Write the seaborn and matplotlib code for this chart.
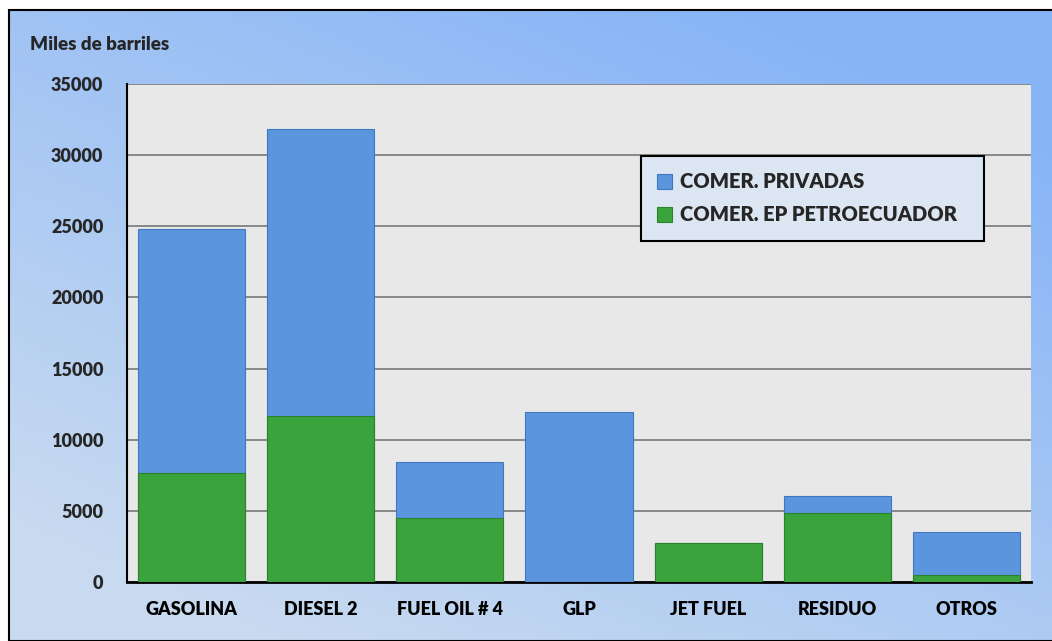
import matplotlib.pyplot as plt
import matplotlib.patches as mpatches
import numpy as np
import pandas as pd
import seaborn as sns

# Datos (miles de barriles)
productos = ["GASOLINA", "DIESEL 2", "FUEL OIL # 4", "GLP", "JET FUEL", "RESIDUO", "OTROS"]
petroecuador = [7650, 11700, 4480, 0, 2720, 4830, 500]
privadas = [17150, 20150, 3970, 11980, 0, 1220, 3040]
y_ticks = [0, 5000, 10000, 15000, 20000, 25000, 30000, 35000]

AZUL = "#5b95dd"
VERDE = "#3aa33b"
PESO = "heavy"

sns.set_theme(style="white")
plt.rcParams["font.family"] = ["Lato", "DejaVu Sans"]

df = pd.DataFrame({"producto": productos, "petro": petroecuador, "priv": privadas})
df["total"] = df["petro"] + df["priv"]

fig = plt.figure(figsize=(10.52, 6.41), dpi=100)

# Fondo con degradado azul
bg = fig.add_axes([9 / 1052, 0, 1 - 9 / 1052, 631 / 641], zorder=-5)
gx, gy = np.meshgrid(np.linspace(0, 1, 200), np.linspace(0, 1, 200))
c1 = np.array([0x86, 0xb4, 0xf7]) / 255
c0 = np.array([0xc8, 0xda, 0xf0]) / 255
mix = np.clip(0.55 * gx + 0.75 * (1 - gy) - 0.15, 0, 1)
img = c0[None, None, :] * (1 - mix[..., None]) + c1[None, None, :] * mix[..., None]
bg.imshow(img, aspect="auto", extent=[0, 1, 0, 1])
bg.set_axis_off()
fig.add_artist(mpatches.Rectangle((9 / 1052, 0), 1.0, 631 / 641, transform=fig.transFigure,
                                  fill=False, edgecolor="black", linewidth=1.5, zorder=-4))

ax = fig.add_axes([127 / 1052, 59 / 641, 904 / 1052, 498 / 641])
ax.set_facecolor("#e8e8e8")

# Barras apiladas: total (azul) y EP Petroecuador (verde) encima
sns.barplot(data=df, x="producto", y="total", color=AZUL, width=0.83, saturation=1,
            edgecolor="#3f78c0", linewidth=0.8, ax=ax, label="COMER. PRIVADAS", zorder=3)
sns.barplot(data=df, x="producto", y="petro", color=VERDE, width=0.83, saturation=1,
            edgecolor="#2c822c", linewidth=0.8, ax=ax, label="COMER. EP PETROECUADOR", zorder=4)

ax.set_ylim(0, 35000)
ax.set_xlim(-0.5, len(productos) - 0.5)
ax.set_yticks(y_ticks)
ax.set_yticklabels([str(v) for v in y_ticks], fontsize=13, fontweight=PESO)
ax.set_xticks(range(len(productos)))
ax.set_xticklabels(productos, fontsize=13, fontweight=PESO)
ax.set_xticks(np.arange(-0.5, len(productos)), minor=True)
ax.tick_params(axis="x", which="major", length=0, pad=14, colors="black")
ax.tick_params(axis="x", which="minor", length=7, width=1.5, color="black")
ax.tick_params(axis="y", length=7, width=1.5, color="black", pad=10)
ax.set_xlabel("")
ax.set_ylabel("")
ax.yaxis.grid(True, color="#808080", linewidth=1.3)
ax.set_axisbelow(True)
for s in ["top", "right"]:
    ax.spines[s].set_visible(False)
ax.spines["left"].set_color("black")
ax.spines["left"].set_linewidth(1.5)
ax.spines["bottom"].set_color("black")
ax.spines["bottom"].set_linewidth(2)

fig.text(30 / 1052, 1 - 45 / 641, "Miles de barriles", fontsize=13.5, fontweight=PESO,
         ha="left", va="center")

leg_h = 81 / 498
leg = ax.legend(loc="upper left", bbox_to_anchor=(0.5686, 0.855 - leg_h, 343 / 904, leg_h),
                mode="expand", borderaxespad=0,
                frameon=True, fancybox=False, framealpha=1, facecolor="#dce6f2",
                edgecolor="black", prop={"size": 14.5, "weight": PESO},
                handlelength=0.75, handleheight=0.75, handletextpad=0.4,
                borderpad=0.8, labelspacing=0.7)
leg.get_frame().set_linewidth(1.5)

fig.savefig("out.png", dpi=100)
